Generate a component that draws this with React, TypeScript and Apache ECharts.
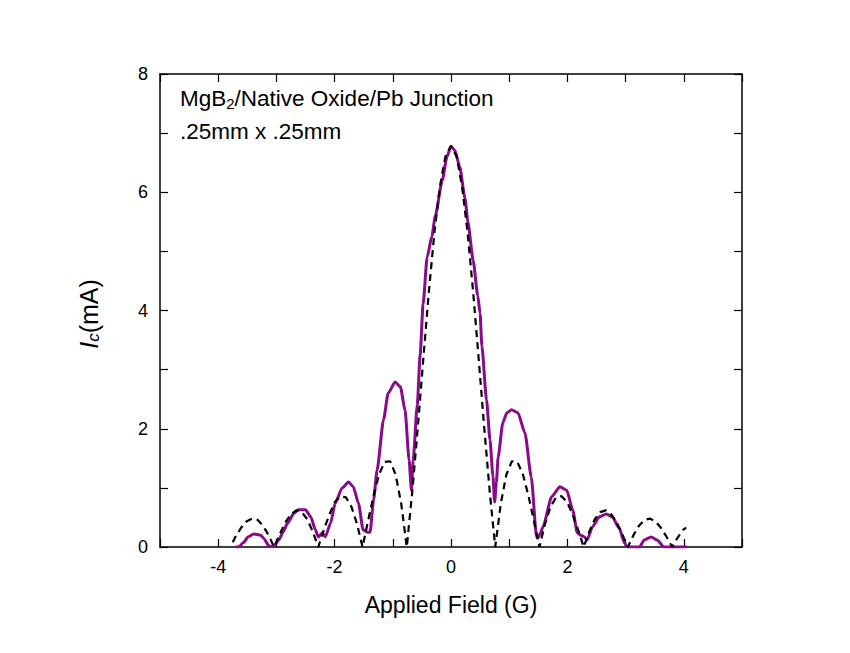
import React, { useEffect, useRef } from "react";
import * as echarts from "echarts";

// Measured Ic (purple solid)
const measX = [-3.70, -3.65, -3.56, -3.49, -3.39, -3.27, -3.22, -3.13, -3.07, -3.02, -2.96, -2.88, -2.81, -2.70, -2.62, -2.50, -2.41, -2.33, -2.28, -2.21, -2.16, -2.07, -1.99, -1.87, -1.76, -1.68, -1.59, -1.51, -1.44, -1.39, -1.33, -1.27, -1.16, -1.08, -0.96, -0.87, -0.79, -0.72, -0.68, -0.65, -0.58, -0.53, -0.48, -0.41, -0.33, -0.27, -0.15, -0.07, 0.00, 0.07, 0.15, 0.24, 0.29, 0.38, 0.46, 0.50, 0.53, 0.61, 0.67, 0.72, 0.75, 0.78, 0.81, 0.89, 0.96, 1.04, 1.15, 1.27, 1.38, 1.47, 1.49, 1.53, 1.58, 1.73, 1.87, 1.99, 2.09, 2.17, 2.23, 2.29, 2.34, 2.43, 2.55, 2.67, 2.77, 2.89, 2.98, 3.03, 3.24, 3.32, 3.44, 3.54, 3.66, 4.05];
const measY = [0, 0, 0.08, 0.17, 0.22, 0.20, 0.15, 0.02, 0, 0.04, 0.12, 0.26, 0.40, 0.57, 0.63, 0.63, 0.51, 0.29, 0.17, 0.24, 0.17, 0.40, 0.74, 1.00, 1.10, 1.02, 0.74, 0.29, 0.25, 0.25, 0.80, 1.30, 2.15, 2.60, 2.79, 2.71, 2.32, 1.47, 0.96, 1.47, 2.40, 3.25, 4.10, 4.90, 5.25, 5.60, 6.20, 6.60, 6.78, 6.70, 6.43, 5.90, 5.50, 4.85, 4.25, 3.95, 3.40, 2.49, 1.81, 1.20, 0.76, 1.10, 1.52, 2.10, 2.27, 2.32, 2.27, 1.93, 1.18, 0.17, 0.15, 0.22, 0.34, 0.85, 1.02, 0.96, 0.63, 0.24, 0.20, 0.17, 0.12, 0.34, 0.51, 0.56, 0.51, 0.32, 0.07, 0, 0, 0.12, 0.17, 0.12, 0, 0];

// Theoretical pattern (black dashed)
const theoX = [-3.75, -3.705, -3.61, -3.515, -3.42, -3.325, -3.23, -3.135, -3.04, -2.945, -2.85, -2.755, -2.66, -2.565, -2.47, -2.375, -2.28, -2.185, -2.09, -1.995, -1.90, -1.805, -1.71, -1.615, -1.52, -1.425, -1.33, -1.235, -1.14, -1.045, -0.95, -0.855, -0.76, -0.665, -0.57, -0.475, -0.38, -0.285, -0.19, -0.095, 0, 0.095, 0.19, 0.285, 0.38, 0.475, 0.57, 0.665, 0.76, 0.855, 0.95, 1.045, 1.14, 1.235, 1.33, 1.425, 1.52, 1.615, 1.71, 1.805, 1.90, 1.995, 2.09, 2.185, 2.28, 2.375, 2.47, 2.565, 2.66, 2.755, 2.85, 2.945, 3.04, 3.135, 3.23, 3.325, 3.42, 3.515, 3.61, 3.705, 3.80, 3.895, 3.99, 4.04];
const theoY = [0.08, 0.17, 0.32, 0.43, 0.48, 0.46, 0.36, 0.20, 0, 0.21, 0.41, 0.55, 0.62, 0.59, 0.47, 0.26, 0, 0.29, 0.55, 0.76, 0.86, 0.84, 0.68, 0.39, 0, 0.44, 0.87, 1.23, 1.44, 1.45, 1.22, 0.73, 0, 0.94, 2.03, 3.19, 4.32, 5.32, 6.10, 6.61, 6.78, 6.61, 6.10, 5.32, 4.32, 3.19, 2.03, 0.94, 0, 0.73, 1.22, 1.45, 1.44, 1.23, 0.87, 0.44, 0, 0.39, 0.68, 0.84, 0.86, 0.76, 0.55, 0.29, 0, 0.26, 0.47, 0.59, 0.62, 0.55, 0.41, 0.21, 0, 0.20, 0.36, 0.46, 0.48, 0.43, 0.32, 0.17, 0, 0.16, 0.29, 0.33];

const xTicks = [-4, -2, 0, 2, 4];
const yTicks = [0, 2, 4, 6, 8];

const FONT = "'Liberation Sans', Arial, sans-serif";

export default function App() {
  const ref = useRef<HTMLDivElement>(null);
  useEffect(() => {
    if (!ref.current) return;
    const chart = echarts.init(ref.current, undefined, { renderer: "svg" });
    const axisCommon = {
      axisLine: { show: true, onZero: false, lineStyle: { color: "#000", width: 1.5 } },
      axisTick: { show: true, inside: true, length: 8, lineStyle: { color: "#000", width: 1.2 } },
      splitLine: { show: false },
    };
    chart.setOption({
      animation: false,
      backgroundColor: "#fff",
      grid: { left: 160, right: 108, top: 74, bottom: 106, containLabel: false },
      xAxis: [
        {
          type: "value", min: -5, max: 5, interval: 1, position: "bottom",
          ...axisCommon,
          axisLabel: {
            margin: 11, fontSize: 18, color: "#000", fontFamily: FONT,
            formatter: (v: number) => (xTicks.includes(v) ? String(v) : ""),
          },
          name: "Applied Field (G)", nameLocation: "middle", nameGap: 46,
          nameTextStyle: { fontSize: 23, color: "#000", fontFamily: FONT },
        },
        {
          type: "value", min: -5, max: 5, interval: 1, position: "top",
          ...axisCommon, axisLabel: { show: false },
        },
      ],
      yAxis: [
        {
          type: "value", min: 0, max: 8, interval: 1, position: "left",
          ...axisCommon,
          axisLabel: {
            margin: 12, fontSize: 18, color: "#000", fontFamily: FONT,
            formatter: (v: number) => (yTicks.includes(v) ? String(v) : ""),
          },
        },
        {
          type: "value", min: 0, max: 8, interval: 1, position: "right",
          ...axisCommon, axisLabel: { show: false },
        },
      ],
      series: [
        {
          type: "line", xAxisIndex: 0, yAxisIndex: 0, showSymbol: false, symbol: "none",
          smooth: 0.2, smoothMonotone: "x", clip: true,
          lineStyle: { color: "#8a0a8a", width: 3 },
          data: measX.map((x, i) => [x, measY[i]]),
        },
        {
          type: "line", xAxisIndex: 0, yAxisIndex: 0, showSymbol: false, symbol: "none",
          smooth: false, clip: true,
          lineStyle: { color: "#000", width: 2.2, type: [7, 5] },
          data: theoX.map((x, i) => [x, theoY[i]]),
        },
      ],
      graphic: [
        {
          type: "text", left: 180, top: 76,
          style: {
            text: "{a|MgB}{s|2}{a|/Native Oxide/Pb Junction}",
            fill: "#000",
            rich: {
              a: { fontSize: 22.5, fontFamily: FONT, lineHeight: 26, fill: "#000" },
              s: { fontSize: 15, fontFamily: FONT, lineHeight: 15, padding: [20, 0, 0, 0], verticalAlign: "bottom", fill: "#000" },
            },
          },
        },
        {
          type: "text", x: 180, y: 131,
          style: { text: ".25mm x .25mm", fontSize: 22.5, fontFamily: FONT, fill: "#000", verticalAlign: "middle", align: "left" },
        },
        {
          type: "text", x: 89, y: 314, rotation: Math.PI / 2,
          style: {
            text: "{i|I}{s|c}{n|(mA)}",
            align: "center", verticalAlign: "middle", fill: "#000",
            rich: {
              i: { fontSize: 25, fontFamily: FONT, fontStyle: "italic", lineHeight: 26, fill: "#000" },
              n: { fontSize: 25, fontFamily: FONT, lineHeight: 26, fill: "#000" },
              s: { fontSize: 17, fontFamily: FONT, fontStyle: "italic", lineHeight: 17, padding: [20, 0, 0, 0], verticalAlign: "bottom", fill: "#000" },
            },
          },
        },
      ],
    });
    return () => chart.dispose();
  }, []);
  return <div ref={ref} style={{ width: 850, height: 653, margin: -8 }} />;
}
